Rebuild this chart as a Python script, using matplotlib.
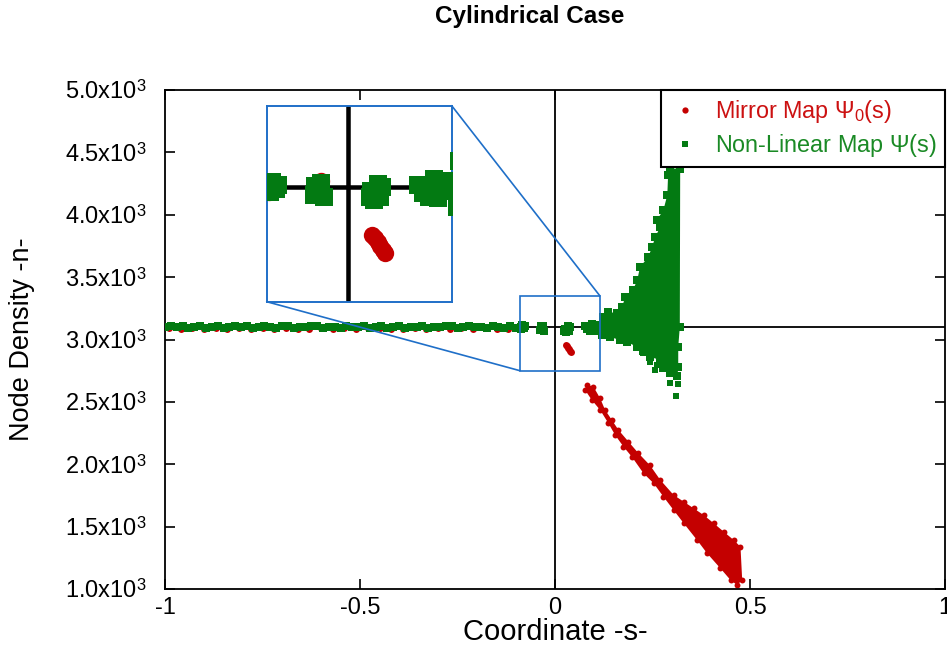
import matplotlib
matplotlib.use('Agg')
import matplotlib.pyplot as plt
from matplotlib.patches import Rectangle, ConnectionPatch
from matplotlib.lines import Line2D

plt.rcParams['font.family'] = ['Liberation Sans', 'DejaVu Sans']
plt.rcParams['mathtext.fontset'] = 'custom'
plt.rcParams['mathtext.rm'] = 'Liberation Sans'
plt.rcParams['mathtext.it'] = 'Liberation Serif:italic'
plt.rcParams['mathtext.bf'] = 'Liberation Sans:bold'

# ---------------- data ----------------
title = 'Cylindrical Case'
xlabel = 'Coordinate -s-'
ylabel = 'Node Density -n-'
label_mirror = r'Mirror Map $\mathrm{\Psi}_0$(s)'
label_nonlin = r'Non-Linear Map $\mathrm{\Psi}$(s)'

xticks = [-1, -0.5, 0, 0.5, 1]
xticklabels = ['-1', '-0.5', '0', '0.5', '1']
yticks = [1000, 1500, 2000, 2500, 3000, 3500, 4000, 4500, 5000]
yticklabels = ['1.0x10$^3$', '1.5x10$^3$', '2.0x10$^3$', '2.5x10$^3$', '3.0x10$^3$',
               '3.5x10$^3$', '4.0x10$^3$', '4.5x10$^3$', '5.0x10$^3$']
ref_density = 3100
zoom_xlim = [-0.09, 0.115]
zoom_ylim = [2750, 3350]

# Non-linear map: flat band left of the origin
green_band_x = [-1.000, -0.985, -0.970, -0.955, -0.940, -0.925, -0.910, -0.895, -0.880, -0.865,
                -0.850, -0.835, -0.820, -0.805, -0.790, -0.775, -0.760, -0.745, -0.730, -0.715,
                -0.700, -0.685, -0.670, -0.655, -0.640, -0.625, -0.610, -0.595, -0.580, -0.565,
                -0.550, -0.535, -0.520, -0.505, -0.490, -0.475, -0.460, -0.445, -0.430, -0.415,
                -0.400, -0.385, -0.370, -0.355, -0.340, -0.325, -0.310, -0.295, -0.280, -0.265,
                -0.250, -0.235, -0.220, -0.205, -0.190, -0.175, -0.160, -0.145, -0.130, -0.115,
                -0.100]
green_band_y = [3102, 3108, 3098, 3105, 3095, 3104, 3109, 3096, 3100, 3107,
                3094, 3103, 3108, 3097, 3105, 3095, 3101, 3108, 3099, 3096,
                3106, 3109, 3095, 3102, 3098, 3105, 3110, 3096, 3100, 3104,
                3094, 3107, 3101, 3097, 3108, 3096, 3103, 3106, 3095, 3099,
                3109, 3096, 3104, 3100, 3107, 3095, 3102, 3098, 3105, 3110,
                3096, 3101, 3108, 3097, 3103, 3094, 3106, 3100, 3092, 3108,
                3096]
# Non-linear map: clusters near the origin
green_mid_x = [-0.088, -0.084, -0.080, -0.086, -0.078,
               -0.036, -0.030, -0.032, -0.027, -0.038, -0.033,
               0.026, 0.033, 0.038, 0.029, 0.036, 0.024,
               0.078, 0.086, 0.095, 0.102, 0.108, 0.112, 0.090, 0.100, 0.083, 0.110]
green_mid_y = [3100, 3115, 3095, 3085, 3108,
               3105, 3112, 3080, 3070, 3078, 3095,
               3088, 3110, 3100, 3062, 3072, 3070,
               3108, 3095, 3125, 3112, 3090, 3118, 3070, 3068, 3082, 3100]
# Non-linear map: fan envelope right of the origin
green_fan_upper_x = [0.116, 0.123, 0.136, 0.159, 0.172, 0.180, 0.200, 0.211, 0.218, 0.239,
                     0.249, 0.257, 0.270, 0.262, 0.278, 0.288, 0.290, 0.296, 0.321]
green_fan_upper_y = [3116, 3180, 3220, 3212, 3260, 3341, 3397, 3477, 3581, 3661,
                     3741, 3822, 3902, 3961, 4038, 4158, 4319, 4370, 4370]
green_fan_lower_x = [0.320, 0.316, 0.316, 0.314, 0.296, 0.278, 0.270, 0.244, 0.226, 0.211,
                     0.185, 0.167, 0.141, 0.121]
green_fan_lower_y = [3100, 2940, 2780, 2705, 2735, 2772, 2836, 2860, 2910, 2940,
                     2980, 2996, 3020, 3040]
green_out_x = [0.226, 0.244, 0.262, 0.257, 0.296, 0.316, 0.311]
green_out_y = [2892, 2820, 2796, 2756, 2651, 2643, 2547]

# Mirror map: flat band (mostly hidden under the green band)
red_band_x = [-0.990, -0.960, -0.930, -0.900, -0.870, -0.840, -0.810, -0.780, -0.750, -0.720,
              -0.690, -0.660, -0.630, -0.600, -0.570, -0.540, -0.510, -0.480, -0.450, -0.420,
              -0.390, -0.360, -0.330, -0.300, -0.270, -0.240, -0.210, -0.180, -0.150, -0.120,
              -0.088, -0.030]
red_band_y = [3090, 3086, 3094, 3084, 3092, 3088, 3095, 3085, 3091, 3083,
              3093, 3088, 3084, 3094, 3086, 3091, 3082, 3089, 3093, 3084,
              3087, 3092, 3083, 3090, 3086, 3094, 3084, 3089, 3082, 3087,
              3085, 3118]
# Mirror map: blob just right of the origin
red_mid_x = [0.027, 0.030, 0.033, 0.036, 0.039, 0.041]
red_mid_y = [2955, 2945, 2932, 2920, 2908, 2900]
# Mirror map: falling streak envelope (upper/right edge, then lower/left edge back up)
red_upper_x = [0.0815, 0.0985, 0.1157, 0.1285, 0.1458, 0.1627, 0.1884, 0.2141, 0.2440, 0.2700,
               0.3040, 0.3300, 0.3555, 0.3810, 0.4070, 0.4327, 0.4580, 0.4756, 0.4800, 0.4670]
red_upper_y = [2635, 2622, 2529, 2435, 2355, 2275, 2181, 2088, 1990, 1874,
               1754, 1700, 1647, 1593, 1527, 1459, 1393, 1339, 1072, 1032]
red_lower_x = [0.4500, 0.4240, 0.3900, 0.3640, 0.3300, 0.3040, 0.2780, 0.2530, 0.2270, 0.1970,
               0.1756, 0.1542, 0.1370, 0.1157, 0.0943, 0.0771]
red_lower_y = [1072, 1166, 1286, 1393, 1527, 1633, 1740, 1847, 1927, 2060,
               2141, 2234, 2328, 2435, 2515, 2595]

# ---------------- styling ----------------
RED = '#c40000'
GREEN = '#037a12'
RED_TXT = '#cc1111'
GREEN_TXT = '#1a8a25'
BLUE = '#1f6fc8'
W, H = 947, 659

fig = plt.figure(figsize=(W / 100, H / 100), dpi=100)
ax = fig.add_axes([165 / W, (H - 589) / H, (945 - 165) / W, (589 - 90) / H])


def draw_data(a, scale):
    ms_g = 5.2 * scale
    ms_r = 5.0 * scale
    a.axhline(ref_density, color='black', lw=1.3 * scale, zorder=1)
    a.axvline(0, color='black', lw=1.3 * scale, zorder=1)
    # mirror map
    a.plot(red_band_x, red_band_y, 'o', color=RED, ms=ms_r, mew=0, zorder=2)
    a.plot(red_mid_x, red_mid_y, 'o', color=RED, ms=ms_r, mew=0, zorder=2)
    a.fill(red_upper_x + red_lower_x, red_upper_y + red_lower_y, color=RED, lw=0, zorder=2)
    a.plot(red_upper_x + red_lower_x, red_upper_y + red_lower_y, 'o', color=RED,
           ms=ms_r * 0.85, mew=0, zorder=2)
    # non-linear map
    a.plot(green_band_x, green_band_y, 's', color=GREEN, ms=ms_g, mew=0, zorder=3)
    a.plot(green_mid_x, green_mid_y, 's', color=GREEN, ms=ms_g, mew=0, zorder=3)
    a.fill(green_fan_upper_x + green_fan_lower_x, green_fan_upper_y + green_fan_lower_y,
           color=GREEN, lw=0, zorder=3)
    a.plot(green_fan_upper_x + green_fan_lower_x, green_fan_upper_y + green_fan_lower_y, 's',
           color=GREEN, ms=ms_g, mew=0, zorder=3)
    a.plot(green_out_x, green_out_y, 's', color=GREEN, ms=ms_g * 0.9, mew=0, zorder=3)


draw_data(ax, 1.0)
ax.set_xlim(-1, 1)
ax.set_ylim(1000, 5000)
ax.set_xticks(xticks)
ax.set_xticklabels(xticklabels)
ax.set_yticks(yticks)
ax.set_yticklabels(yticklabels)
ax.tick_params(direction='in', length=7, width=1.2, top=True, right=True,
               labelsize=17, colors='black')
ax.tick_params(axis='x', pad=6)
ax.tick_params(axis='y', pad=13)
for s in ax.spines.values():
    s.set_linewidth(1.3)

ax.set_xlabel(xlabel, fontsize=21)
ax.xaxis.set_label_coords(0.5, -0.087)
ax.xaxis.label.set_va('center')
ax.set_ylabel(ylabel, fontsize=19.5)
ax.yaxis.set_label_coords(-0.183, 0.5)
ax.yaxis.label.set_va('center')

fig.text(530 / W, 1 - 16 / H, title, ha='center', va='center', fontsize=17.5, fontweight='bold')

# zoom rectangle and inset
ax.add_patch(Rectangle((zoom_xlim[0], zoom_ylim[0]), zoom_xlim[1] - zoom_xlim[0],
                       zoom_ylim[1] - zoom_ylim[0], fill=False, ec=BLUE, lw=1.2, zorder=6))
axin = fig.add_axes([266.7 / W, (H - 301.7) / H, 185 / W, 196 / H])
draw_data(axin, 2.5)
axin.set_xlim(zoom_xlim)
axin.set_ylim(zoom_ylim)
axin.set_xticks([])
axin.set_yticks([])
for s in axin.spines.values():
    s.set_color(BLUE)
    s.set_linewidth(1.4)

for xa, xb in [((1, 1), (zoom_xlim[1], zoom_ylim[1])), ((0, 0), (zoom_xlim[0], zoom_ylim[0]))]:
    con = ConnectionPatch(xyA=xa, coordsA=axin.transAxes, xyB=xb, coordsB=ax.transData,
                          color=BLUE, lw=1.2)
    fig.add_artist(con)

handles = [Line2D([], [], ls='none', marker='o', color=RED, ms=4.5, mew=0),
           Line2D([], [], ls='none', marker='s', color=GREEN, ms=4.5, mew=0)]
leg = ax.legend(handles, [label_mirror, label_nonlin], loc='upper right',
                bbox_to_anchor=(1, 1), borderaxespad=0, fancybox=False, framealpha=1,
                edgecolor='black', fontsize=16.8, handlelength=1.4, handletextpad=0.6,
                borderpad=0.35, labelspacing=0.3)
leg.get_frame().set_linewidth(1.5)
leg.set_zorder(10)
leg.get_texts()[0].set_color(RED_TXT)
leg.get_texts()[1].set_color(GREEN_TXT)

fig.savefig('out.png', dpi=100)
